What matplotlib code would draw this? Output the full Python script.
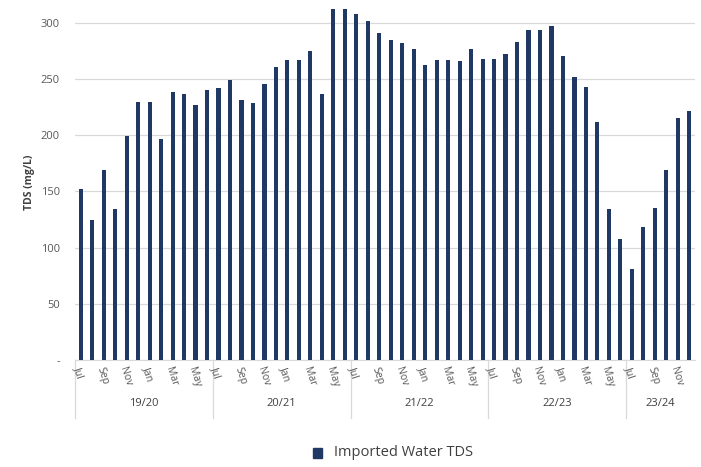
import matplotlib
matplotlib.use("Agg")
import matplotlib.pyplot as plt
from matplotlib.patches import Rectangle

plt.rcParams['font.family'] = ['Open Sans', 'DejaVu Sans']

fiscal_years = ["19/20", "20/21", "21/22", "22/23", "23/24"]
months = ["Jul", "Aug", "Sep", "Oct", "Nov", "Dec", "Jan", "Feb", "Mar", "Apr", "May", "Jun"]
months_per_year = [12, 12, 12, 12, 6]

tds_1920 = [152, 125, 169, 134, 199, 230, 230, 197, 239, 237, 227, 240]
tds_2021 = [242, 249, 231, 229, 246, 261, 267, 267, 275, 237, 312, 312]
tds_2122 = [308, 302, 291, 285, 282, 277, 263, 267, 267, 266, 277, 268]
tds_2223 = [268, 272, 283, 294, 294, 297, 271, 252, 243, 212, 134, 108]
tds_2324 = [81, 118, 135, 169, 215, 222]

values = tds_1920 + tds_2021 + tds_2122 + tds_2223 + tds_2324
labels = []
for n in months_per_year:
    labels += months[:n]

ytick_vals = [0, 50, 100, 150, 200, 250, 300]
ytick_labels = ["-", "50", "100", "150", "200", "250", "300"]

bar_color = "#1f3864"
text_color = "#595959"
grid_color = "#d9d9d9"

fig = plt.figure(figsize=(7.01, 4.67), dpi=100)
ax = fig.add_axes([75/701, 1-360/467, 620/701, (360-5)/467])

x = list(range(len(values)))
ax.bar(x, values, width=0.36, color=bar_color, zorder=3)
ax.set_xlim(-0.5, len(values)-0.5)
ax.set_ylim(0, 316)
ax.set_yticks(ytick_vals)
ax.set_yticklabels(ytick_labels, color=text_color, fontsize=8)
ax.tick_params(axis='y', length=0, pad=11)
ax.grid(axis='y', color=grid_color, linewidth=0.9, zorder=0)
for s in ["top", "right", "left"]:
    ax.spines[s].set_visible(False)
ax.spines["bottom"].set_color(grid_color)
ax.set_ylabel("TDS (mg/L)", fontsize=7.5, fontweight='bold', color="#404040", labelpad=4)

ax.set_xticks([])
# month labels every other month
for i, lab in enumerate(labels):
    if lab in ("Jul", "Sep", "Nov", "Jan", "Mar", "May"):
        ax.annotate(lab, xy=(i, 0), xycoords=('data', 'axes fraction'),
                    xytext=(-3, -5), textcoords='offset points',
                    rotation=-72, rotation_mode='anchor', ha='left', va='center',
                    fontsize=7.5, color=text_color, annotation_clip=False)

# group separators and labels
bounds = [0]
for n in months_per_year:
    bounds.append(bounds[-1] + n)
sep_len = 58  # pixels
for b in bounds[:-1]:
    ax.plot([b-0.5, b-0.5], [0, -sep_len / 355], transform=ax.get_xaxis_transform(),
            color=grid_color, linewidth=0.9, clip_on=False)
for k, fy in enumerate(fiscal_years):
    mid = (bounds[k] + bounds[k+1] - 1) / 2
    ax.text(mid, -43/355, fy, transform=ax.get_xaxis_transform(), ha='center', va='center',
            fontsize=8, color="#404040")

# legend
fig.patches.append(Rectangle((313/701, 1-458/467), 9/701, 10/467, transform=fig.transFigure,
                             color=bar_color))
fig.text(334/701, 1-453/467, "Imported Water TDS", fontsize=10.5, color="#404040",
         ha='left', va='center')

fig.savefig("out.png", dpi=100)
